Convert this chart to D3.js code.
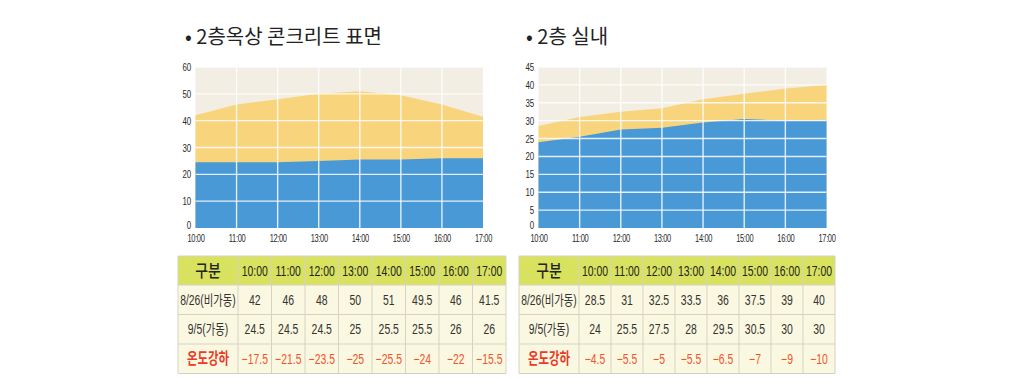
<!DOCTYPE html>
<html><head><meta charset="utf-8">
<script src="https://cdn.jsdelivr.net/npm/d3@7"></script>
<style>
body{margin:0;background:#fff;}
svg{display:block;}
</style></head>
<body>
<svg id="c" width="1024" height="390"></svg>
<script>
const times = ["10:00","11:00","12:00","13:00","14:00","15:00","16:00","17:00"];
const roofOff = [42,46,48,50,51,49.5,46,41.5];
const roofOn = [24.5,24.5,24.5,25,25.5,25.5,26,26];
const roofDrop = [-17.5,-21.5,-23.5,-25,-25.5,-24,-22,-15.5];
const indoorOff = [28.5,31,32.5,33.5,36,37.5,39,40];
const indoorOn = [24,25.5,27.5,28,29.5,30.5,30,30];
const indoorDrop = [-4.5,-5.5,-5,-5.5,-6.5,-7,-9,-10];
const roofTicks = [0,10,20,30,40,50,60];
const indoorTicks = [0,5,10,15,20,25,30,35,40,45];
const rowLabels = ["구분","8/26(비가동)","9/5(가동)","온도강하"];
const titles = ["• 2층옥상 콘크리트 표면","• 2층 실내"];

const svg = d3.select("#c");
const LAT = "'Liberation Sans','Noto Sans CJK KR',sans-serif";
const KR = "'Noto Sans CJK KR',sans-serif";
const fmt = v => (v<0?"\u2212":"") + String(Math.abs(v));

function chart(cfg){
  const g = svg.append("g");
  const x = d3.scalePoint().domain(times).range([cfg.x0,cfg.x1]);
  const y = d3.scaleLinear().domain([0,cfg.max]).range([228,67]);
  g.append("rect").attr("x",cfg.x0).attr("y",y(cfg.max)).attr("width",cfg.x1-cfg.x0)
    .attr("height",y(0)-y(cfg.max)).attr("fill","#f3eee3");
  const area = d3.area().x((d,i)=>x(times[i])).y0(y(0)).y1(d=>y(d));
  g.append("path").datum(cfg.off).attr("d",area).attr("fill","#f8d57c");
  g.append("path").datum(cfg.on).attr("d",area).attr("fill","#4899d6");
  g.selectAll(".hg").data(cfg.ticks.slice(1)).join("line")
    .attr("x1",cfg.x0).attr("x2",cfg.x1).attr("y1",d=>y(d)).attr("y2",d=>y(d))
    .attr("stroke","#fff").attr("stroke-width",1.4).attr("opacity",0.85);
  g.selectAll(".vg").data(times.slice(1,-1)).join("line")
    .attr("x1",d=>x(d)).attr("x2",d=>x(d)).attr("y1",y(cfg.max)).attr("y2",y(0))
    .attr("stroke","#fff").attr("stroke-width",1.4).attr("opacity",0.85);
  const ya = d3.axisLeft(y).tickValues(cfg.ticks).tickSize(0).tickPadding(6);
  const yg = g.append("g").attr("transform",`translate(${cfg.x0},0)`).call(ya);
  yg.select(".domain").remove();
  yg.selectAll("text").attr("font-family",LAT).attr("font-size",11).attr("fill","#2a2a2a")
    .attr("dy",d=>d===0?"0.0em":"0.32em")
    .attr("transform","scale(0.72,1)");
  const xa = d3.axisBottom(x).tickSize(0).tickPadding(6);
  const xg = g.append("g").attr("transform",`translate(0,${y(0)})`).call(xa);
  xg.select(".domain").remove();
  xg.selectAll("text").attr("font-family",LAT).attr("font-size",11).attr("fill","#2a2a2a")
    .attr("letter-spacing",-0.5).attr("transform","scale(0.68,1)");
  svg.append("text").attr("x",cfg.tx).attr("y",44).attr("font-family",KR).attr("font-size",20)
    .attr("fill","#222").text(cfg.title);
}

function table(cfg){
  const g = svg.append("g");
  const firstW = cfg.firstW, colW = cfg.colW;
  const rowsY = [256,285,314.5,344,373.5];
  const colX = [cfg.x].concat(times.map((t,i)=>cfg.x+firstW+colW*i));
  const xEnd = cfg.x+firstW+colW*times.length;
  const rows = [
    {label:rowLabels[0], vals:times, fill:"#d9e25f", color:"#222"},
    {label:rowLabels[1], vals:cfg.off.map(fmt), fill:"#fbf8e1", color:"#333"},
    {label:rowLabels[2], vals:cfg.on.map(fmt), fill:"#fbf8e1", color:"#333"},
    {label:rowLabels[3], vals:cfg.drop.map(fmt), fill:"#fbf8e1", color:"#f0552b"}
  ];
  const labStyle = [
    {ff:KR, fs:17, fw:500, fill:"#222", sx:0.82},
    {ff:LAT, fs:14, fw:400, fill:"#333", sx:0.74},
    {ff:LAT, fs:14, fw:400, fill:"#333", sx:0.74},
    {ff:KR, fs:15.5, fw:700, fill:"#ea3b25", sx:0.74}
  ];
  rows.forEach((r,ri)=>{
    const y0 = rowsY[ri], y1 = rowsY[ri+1], cy=(y0+y1)/2;
    g.append("rect").attr("x",cfg.x).attr("y",y0).attr("width",xEnd-cfg.x).attr("height",y1-y0).attr("fill",r.fill);
    const s = labStyle[ri];
    g.append("text").attr("transform",`translate(${cfg.x+firstW/2},${cy}) scale(${s.sx},1)`)
      .attr("dy","0.36em").attr("text-anchor","middle")
      .attr("font-family",s.ff).attr("font-size",s.fs).attr("font-weight",s.fw).attr("fill",s.fill)
      .text(r.label);
    g.selectAll(null).data(r.vals).join("text")
      .attr("transform",(d,i)=>`translate(${cfg.x+firstW+colW*i+colW/2},${cy}) scale(0.72,1)`)
      .attr("dy","0.36em").attr("text-anchor","middle").attr("font-family",LAT).attr("font-size",14.5)
      .attr("fill",r.color).text(d=>d);
  });
  g.selectAll(".hl").data(rowsY).join("line")
    .attr("x1",cfg.x).attr("x2",xEnd).attr("y1",d=>d).attr("y2",d=>d)
    .attr("stroke","#d5d2c4").attr("stroke-width",1);
  g.selectAll(".vl").data(colX.concat([xEnd])).join("line")
    .attr("x1",d=>d).attr("x2",d=>d).attr("y1",rowsY[0]).attr("y2",rowsY[4])
    .attr("stroke","#d5d2c4").attr("stroke-width",1);
}

chart({x0:195.5,x1:483,max:60,ticks:roofTicks,off:roofOff,on:roofOn,title:titles[0],tx:185});
chart({x0:538.5,x1:826.5,max:45,ticks:indoorTicks,off:indoorOff,on:indoorOn,title:titles[1],tx:526});
table({x:178,firstW:60,colW:33.5,off:roofOff,on:roofOn,drop:roofDrop});
table({x:519,firstW:60,colW:32,off:indoorOff,on:indoorOn,drop:indoorDrop});
</script>
</body></html>
